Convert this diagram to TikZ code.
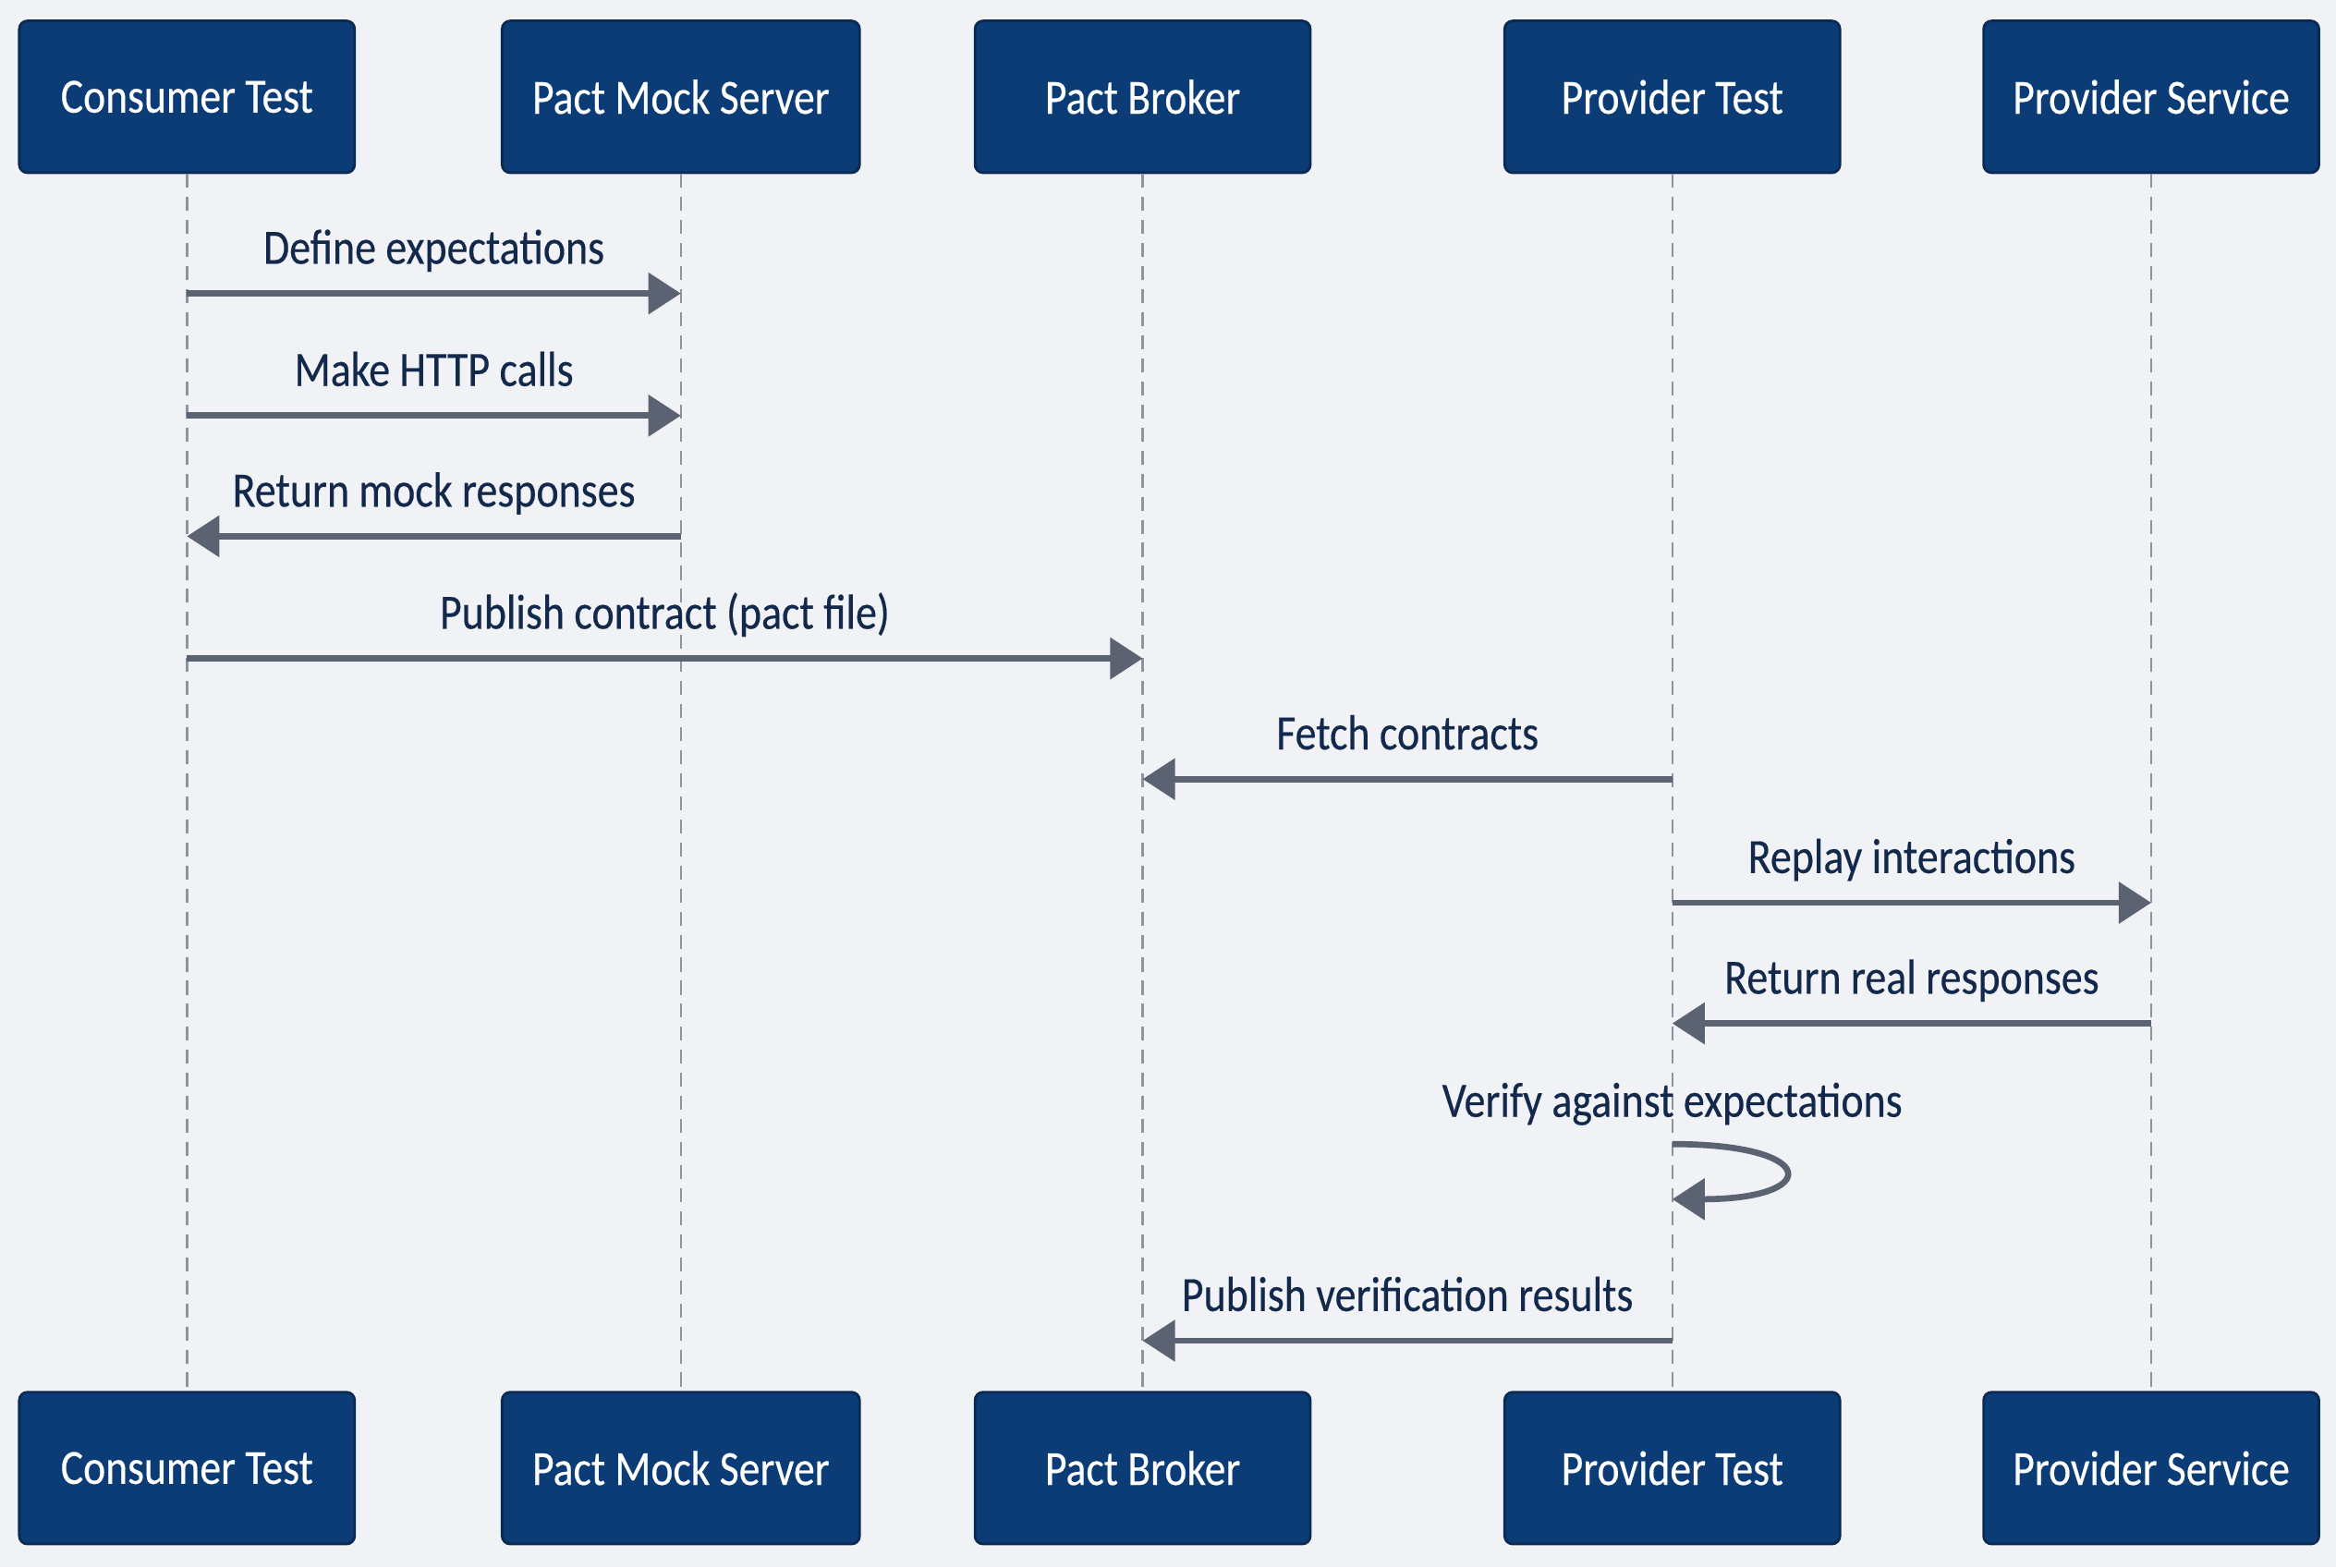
\documentclass[tikz,border=0pt]{standalone}
\usepackage{fontspec}
\setmainfont{Carlito}[FakeStretch=0.86, FakeBold=0.35]
\usepackage{tikz}
\usetikzlibrary{arrows.meta, positioning}
\definecolor{bgGray}{HTML}{F1F2F5}
\definecolor{actorBlue}{HTML}{0B3C76}
\definecolor{actorEdge}{HTML}{0A2A52}
\definecolor{lifeGray}{HTML}{8E949E}
\definecolor{msgGray}{HTML}{5B6372}
\definecolor{labelNavy}{HTML}{13294B}

\begin{document}
\begin{tikzpicture}[
		x=0.016122cm, y=-0.016122cm,
		actor/.style={
				draw=actorEdge,
				fill=actorBlue,
				line width=0.8pt,
				rounded corners=2.5pt,
				text=white,
				minimum width=3.63cm,
				minimum height=1.644cm,
				font=\fontsize{15.1}{16}\selectfont
			},
		life/.style={draw=lifeGray, line width=0.7pt, dash pattern=on 4.3pt off 2.8pt},
		msg/.style={draw=msgGray, line width=1.9pt, -{Triangle[length=10pt, width=12.5pt]}},
		msgtext/.style={
				inner sep=0pt,
				text=labelNavy,
				text depth=3pt, % keep baselines level
				font=\fontsize{15.2}{16}\selectfont
			},
		lbl/.style={msgtext, midway, above=5.2pt}
	]
	% background, fixes the page size
	\fill[bgGray] (0,0) rectangle (1568,1052);

	% actors, top row
	\node[actor] (ctTop) at (125.5, 65) {Consumer Test};
	\node[actor, minimum width=3.87cm] (msTop) at (457, 65) {Pact Mock Server};
	\node[actor] (pbTop) at (767, 65) {Pact Broker};
	\node[actor] (ptTop) at (1122.5, 65) {Provider Test};
	\node[actor] (psTop) at (1444, 65) {Provider Service};

	% actors, bottom row
	\node[actor] (ctBot) at (125.5, 985.5) {Consumer Test};
	\node[actor, minimum width=3.87cm] (msBot) at (457, 985.5) {Pact Mock Server};
	\node[actor] (pbBot) at (767, 985.5) {Pact Broker};
	\node[actor] (ptBot) at (1122.5, 985.5) {Provider Test};
	\node[actor] (psBot) at (1444, 985.5) {Provider Service};

	% lifelines
	\draw[life] (ctTop) -- (ctBot);
	\draw[life] (msTop) -- (msBot);
	\draw[life] (pbTop) -- (pbBot);
	\draw[life] (ptTop) -- (ptBot);
	\draw[life] (psTop) -- (psBot);

	% message rows
	\coordinate (r1) at (0, 197);
	\coordinate (r2) at (0, 279);
	\coordinate (r3) at (0, 360);
	\coordinate (r4) at (0, 442);
	\coordinate (r5) at (0, 523);
	\coordinate (r6) at (0, 606);
	\coordinate (r7) at (0, 687);
	\coordinate (r8a) at (0, 768);
	\coordinate (r8b) at (0, 805);
	\coordinate (r9) at (0, 900);

	\draw[msg] (ctTop |- r1) -- node[lbl] {Define expectations} (msTop |- r1);
	\draw[msg] (ctTop |- r2) -- node[lbl] {Make HTTP calls} (msTop |- r2);
	\draw[msg] (msTop |- r3) -- node[lbl] {Return mock responses} (ctTop |- r3);
	\draw[msg] (ctTop |- r4) -- node[lbl] {Publish contract (pact file)} (pbTop |- r4);
	\draw[msg] (ptTop |- r5) -- node[lbl] {Fetch contracts} (pbTop |- r5);
	\draw[msg] (ptTop |- r6) -- node[lbl] {Replay interactions} (psTop |- r6);
	\draw[msg] (psTop |- r7) -- node[lbl] {Return real responses} (ptTop |- r7);

	% self call on provider test
	\node[msgtext, anchor=south] (verify) at ([yshift=5.2pt]ptTop |- r8a) {Verify against expectations};
	\draw[msg] (ptTop |- r8a) .. controls +(100,0) and +(100,0) .. (ptTop |- r8b);

	\draw[msg] (ptTop |- r9) -- node[lbl] {Publish verification results} (pbTop |- r9);
\end{tikzpicture}
\end{document}
